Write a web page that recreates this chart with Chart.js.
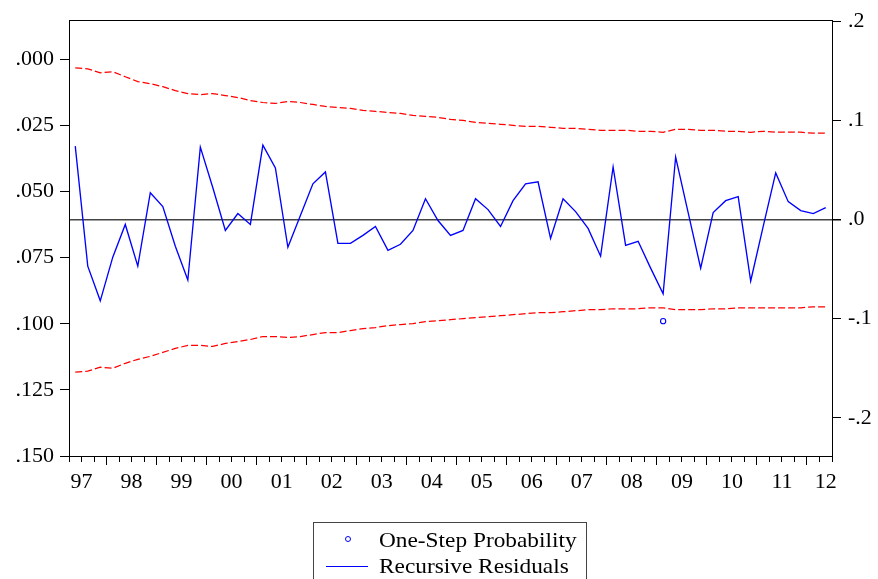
<!DOCTYPE html>
<html>
<head>
<meta charset="utf-8">
<script src="https://cdn.jsdelivr.net/npm/chart.js@4.4.1/dist/chart.umd.min.js"></script>
<style>
  html, body { margin: 0; padding: 0; background: #fff; overflow: hidden; width: 878px; height: 579px; }
  #wrap { position: relative; width: 878px; height: 579px; }
  #c { position: absolute; left: 0; top: 0; }
  #legendBox { position: absolute; left: 313px; top: 522px; width: 274px; height: 90px;
               border: 1.5px solid #444; box-sizing: border-box; }
  .lg-text { position: absolute; left: 379px; font-family: "Liberation Serif", "Times New Roman", serif;
             font-size: 22px; line-height: 22px; color: #000; white-space: nowrap;
             transform: scaleX(1.06); transform-origin: left center; }
  .lg-dot { position: absolute; width: 6px; height: 6px; box-sizing: border-box;
            border: 1px solid #0000ff; border-radius: 50%; }
  .lg-line { position: absolute; height: 1.3px; background: #0000ff; }
</style>
</head>
<body>
<div id="wrap">
  <canvas id="c" width="878" height="579"></canvas>
  <div id="legendBox"></div>
  <div id="legendItems"></div>
</div>
<script>
// Quarterly sample 1997Q2 - 2012Q2
const yearLabels = ['97','98','99','00','01','02','03','04','05','06','07','08','09','10','11','12'];
const firstQuarter = 2;

// Recursive residuals (right axis)
const residuals = [
  0.074, -0.047, -0.082, -0.038, -0.005, -0.047, 0.027, 0.013, -0.027, -0.061,
  0.073, 0.032, -0.011, 0.006, -0.005, 0.075, 0.052, -0.028, 0.004, 0.036,
  0.048, -0.024, -0.024, -0.016, -0.007, -0.031, -0.025, -0.011, 0.021, -0.001,
  -0.016, -0.011, 0.021, 0.010, -0.007, 0.019, 0.036, 0.038, -0.019, 0.021,
  0.008, -0.009, -0.037, 0.053, -0.026, -0.022, -0.049, -0.075, 0.063, 0.007,
  -0.049, 0.007, 0.019, 0.023, -0.062, -0.007, 0.047, 0.018, 0.009, 0.006,
  0.012
];

// +2 S.E. band
const upperBand = [
  0.153, 0.152, 0.148, 0.149, 0.144, 0.139, 0.137, 0.134, 0.130, 0.127,
  0.126, 0.127, 0.125, 0.123, 0.120, 0.118, 0.117, 0.119, 0.118, 0.116,
  0.114, 0.113, 0.112, 0.110, 0.109, 0.108, 0.107, 0.105, 0.104, 0.103,
  0.101, 0.100, 0.098, 0.097, 0.096, 0.095, 0.094, 0.094, 0.093, 0.092,
  0.092, 0.091, 0.090, 0.090, 0.090, 0.089, 0.089, 0.088, 0.091, 0.091,
  0.090, 0.090, 0.089, 0.089, 0.088, 0.089, 0.088, 0.088, 0.088, 0.087,
  0.087
];

// -2 S.E. band
const lowerBand = [
  -0.154, -0.153, -0.149, -0.150, -0.145, -0.141, -0.138, -0.134, -0.130, -0.127,
  -0.127, -0.128, -0.125, -0.123, -0.121, -0.118, -0.118, -0.119, -0.118, -0.116,
  -0.114, -0.114, -0.112, -0.110, -0.109, -0.107, -0.106, -0.105, -0.103, -0.102,
  -0.101, -0.100, -0.099, -0.098, -0.097, -0.096, -0.095, -0.094, -0.094, -0.093,
  -0.092, -0.091, -0.091, -0.090, -0.090, -0.090, -0.089, -0.089, -0.091, -0.091,
  -0.091, -0.090, -0.090, -0.089, -0.089, -0.089, -0.089, -0.089, -0.089, -0.088,
  -0.088
];

// One-step probabilities (left axis, only those below .15 are plotted)
const oneStepProb = [
  null, null, null, null, null, null, null, null, null, null,
  null, null, null, null, null, null, null, null, null, null,
  null, null, null, null, null, null, null, null, null, null,
  null, null, null, null, null, null, null, null, null, null,
  null, null, null, null, null, null, null, 0.099, null, null,
  null, null, null, null, null, null, null, null, null, null,
  null
];

const probTicks = [0, 0.025, 0.05, 0.075, 0.1, 0.125, 0.15];
const residTicks = [-0.2, -0.1, 0, 0.1, 0.2];

const n = residuals.length;
const toPoints = arr => arr.map((v, i) => ({ x: i + 0.5, y: v })).filter(p => p.y !== null);

// Quarter boundaries (minor), year starts (major) and year labels centred on each year
const xTicks = [];
for (let b = 0; b <= n; b++) {
  const q = (firstQuarter - 1 + b) % 4 + 1;
  xTicks.push({ value: b, kind: (b > 0 && b < n && q === 1) ? 'major' : 'minor' });
}
const firstQ1 = (5 - firstQuarter) % 4;
yearLabels.forEach((lab, k) => {
  const centre = firstQ1 + 4 * (k - 1) + 2;
  xTicks.push({ value: Math.min(centre, n - 0.5), kind: 'label', text: lab });
});
xTicks.sort((a, b) => a.value - b.value);

const fmtProb = v => '.' + String(Math.round(v * 1000)).padStart(3, '0');
const fmtRes = v => v === 0 ? '.0' : (v < 0 ? '-' : '') + '.' + Math.round(Math.abs(v) * 10);

const serif = { family: '"Liberation Serif", "Times New Roman", serif', size: 22 };
const frame = { display: true, color: '#000', width: 1 };

new Chart(document.getElementById('c'), {
  type: 'line',
  data: {
    datasets: [
      {
        label: 'One-Step Probability',
        data: toPoints(oneStepProb),
        xAxisID: 'x', yAxisID: 'yProb',
        showLine: false,
        pointStyle: 'circle', pointRadius: 2.6, pointBorderWidth: 1.1,
        pointBorderColor: '#0000ff', pointBackgroundColor: 'rgba(0,0,0,0)'
      },
      {
        label: 'Recursive Residuals',
        data: toPoints(residuals),
        xAxisID: 'x', yAxisID: 'yRes',
        borderColor: '#0000ff', borderWidth: 1.35, pointRadius: 0, tension: 0
      },
      {
        label: '+2 S.E.',
        data: toPoints(upperBand),
        xAxisID: 'x', yAxisID: 'yRes',
        borderColor: '#ff0000', borderWidth: 1.25, borderDash: [7, 3], pointRadius: 0, tension: 0
      },
      {
        label: '-2 S.E.',
        data: toPoints(lowerBand),
        xAxisID: 'x', yAxisID: 'yRes',
        borderColor: '#ff0000', borderWidth: 1.25, borderDash: [7, 3], pointRadius: 0, tension: 0
      }
    ]
  },
  options: {
    responsive: false,
    animation: false,
    devicePixelRatio: 1,
    layout: { padding: 0 },
    plugins: { legend: { display: false }, tooltip: { enabled: false } },
    scales: {
      x: {
        type: 'linear', position: 'bottom', min: 0, max: n,
        afterBuildTicks: s => { s.ticks = xTicks.map(t => ({ value: t.value, kind: t.kind, text: t.text })); },
        afterFit: s => { s.height = 123; },
        ticks: {
          autoSkip: false, maxRotation: 0, padding: 4, color: '#000', font: serif,
          callback: (v, i, ticks) => ticks[i].kind === 'label' ? ticks[i].text : ''
        },
        grid: {
          drawOnChartArea: false, tickLength: 9, tickWidth: 1,
          tickColor: ctx => (ctx.tick && ctx.tick.kind === 'label') ? 'rgba(0,0,0,0)' : '#000',
          tickBorderDash: ctx => (ctx.tick && ctx.tick.kind === 'minor') ? [5, 40] : []
        },
        border: frame
      },
      xTop: {
        type: 'linear', position: 'top', min: 0, max: n,
        afterFit: s => { s.height = 19; },
        ticks: { display: false },
        grid: { drawOnChartArea: false, drawTicks: false },
        border: frame
      },
      yProb: {
        type: 'linear', position: 'left', reverse: true, min: -0.0148, max: 0.15,
        afterBuildTicks: s => { s.ticks = probTicks.map(v => ({ value: v })); },
        afterFit: s => { s.width = 69; },
        ticks: { padding: 6, color: '#000', font: serif, callback: v => fmtProb(v) },
        grid: { drawOnChartArea: false, tickLength: 9, tickColor: '#000' },
        border: frame
      },
      yRes: {
        type: 'linear', position: 'right', min: -0.2385, max: 0.201,
        afterBuildTicks: s => { s.ticks = residTicks.map(v => ({ value: v })); },
        afterFit: s => { s.width = 46; },
        ticks: { padding: 7, color: '#000', font: serif, callback: v => fmtRes(v) },
        grid: {
          drawOnChartArea: true, tickLength: 9, tickColor: '#000',
          color: ctx => (ctx.tick && ctx.tick.value === 0) ? '#444' : 'rgba(0,0,0,0)',
          lineWidth: ctx => (ctx.tick && ctx.tick.value === 0) ? 1.5 : 1
        },
        border: frame
      }
    }
  }
});

// Legend rows
const legendRows = [
  { text: 'One-Step Probability', marker: 'dot' },
  { text: 'Recursive Residuals', marker: 'line' }
];
const holder = document.getElementById('legendItems');
legendRows.forEach((row, k) => {
  const top = 529 + k * 26;
  const t = document.createElement('div');
  t.className = 'lg-text';
  t.style.top = top + 'px';
  t.textContent = row.text;
  holder.appendChild(t);
  const m = document.createElement('div');
  if (row.marker === 'dot') {
    m.className = 'lg-dot';
    m.style.left = '345px';
    m.style.top = (top + 7) + 'px';
  } else {
    m.className = 'lg-line';
    m.style.left = '326px';
    m.style.width = '42px';
    m.style.top = (top + 11) + 'px';
  }
  holder.appendChild(m);
});
</script>
</body>
</html>
